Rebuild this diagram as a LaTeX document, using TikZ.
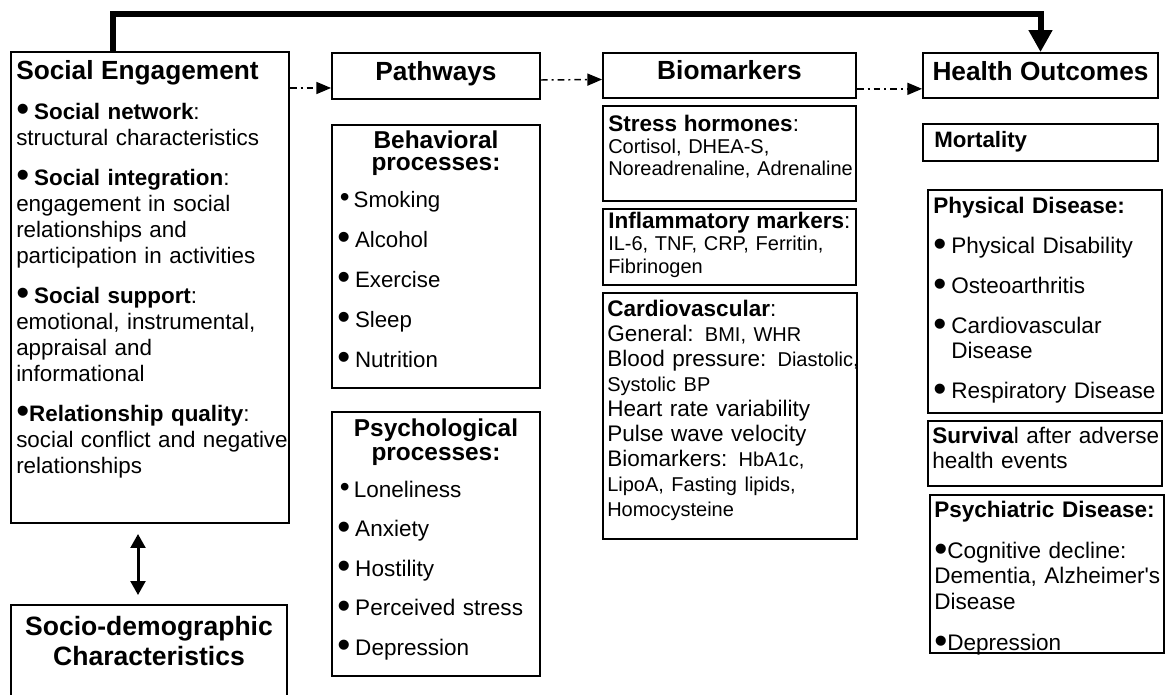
\documentclass[tikz,border=0pt]{standalone}
\usepackage{fontspec}
\setmainfont{Liberation Sans}
\usetikzlibrary{arrows.meta,fit}
\tikzset{box/.style={rectangle,draw,line width=1.4pt,inner sep=0pt}}
\tikzset{hd/.style={anchor=base,inner sep=0pt,font=\fontsize{19.7}{23}\selectfont\bfseries}}
\tikzset{txt/.style={anchor=north west,inner sep=0pt,align=left,text width=240pt}}
\tikzset{ctxt/.style={anchor=north,inner sep=0pt,align=center,text width=190pt}}
\tikzset{flow/.style={-{Triangle[length=11pt,width=9pt]},line width=1.1pt,dash pattern=on 5pt off 3pt on 1.5pt off 3pt}}
\newcommand{\fl}{\rule{0pt}{1em}}
\newcommand{\bul}{\raisebox{-0.12em}{\scalebox{1.65}{\textbullet}}}
\newcommand{\bitem}{\bul\hspace{0.22em}}
\newcommand{\sbul}{\hspace{2pt}\raisebox{0.02em}{\scalebox{1.25}{\textbullet}}\hspace{3pt}}
\newcommand{\sm}{\fontsize{15}{18.75}\selectfont}

\begin{document}
\begin{tikzpicture}[x=0.75pt,y=-0.75pt]
      \useasboundingbox (0,0) rectangle (1166,695);
      \node[box, fit={(11,52) (289,523)}] (se) {};
      \node[txt, font=\fontsize{16.8}{19.5}\selectfont] (setxt) at (16,52.7) {{\fontsize{19.7}{23}\selectfont\bfseries\fl Social Engagement}\\[10.5pt]
        \bitem\textbf{Social network}:\\ structural characteristics\\[10.5pt]
        \bitem\textbf{Social integration}:\\ engagement in social\\ relationships and\\ participation in activities\\[10.5pt]
        \bitem\textbf{Social support}:\\ emotional, instrumental,\\ appraisal and\\ informational\\[10.5pt]
        \bul\textbf{Relationship quality}:\\ social conflict and negative\\ relationships};
      \node[box, fit={(11,605) (287,700)}] (sd) {};
      \node[ctxt, text width=200pt, font=\fontsize{19.9}{22.5}\selectfont\bfseries] (sdtxt) at (149,608.5) {\fl Socio-demographic\\ Characteristics};

      \node[box, fit={(332,53) (540,99)}] (pw) {};
      \node[hd] (pwtxt) at (436,81) {Pathways};
      \node[box, fit={(332,125) (540,388)}] (beh) {};
      \node[ctxt, text width=150pt, font=\fontsize{18.3}{17}\selectfont\bfseries] (behhd) at (436,123.6) {\fl Behavioral\\ processes:};
      \node[txt, font=\fontsize{16.7}{30}\selectfont] (behls) at (337,184.7) {\fl\sbul Smoking\\ \bitem Alcohol\\ \bitem Exercise\\ \bitem Sleep\\ \bitem Nutrition};
      \node[box, fit={(332,412) (540,676)}] (psy) {};
      \node[ctxt, text width=150pt, font=\fontsize{18.3}{18}\selectfont\bfseries] (psyhd) at (436,411.6) {\fl Psychological\\ processes:};
      \node[txt, font=\fontsize{16.9}{29.6}\selectfont] (psyls) at (337,474.5) {\fl\sbul Loneliness\\ \bitem Anxiety\\ \bitem Hostility\\ \bitem Perceived stress\\ \bitem Depression};

      \node[box, fit={(603,53) (856,98)}] (bm) {};
      \node[hd] (bmtxt) at (729.5,79.5) {Biomarkers};
      \node[box, fit={(603,106) (856,201)}] (str) {};
      \node[txt, font=\fontsize{15}{16.5}\selectfont] (strtxt) at (608,108.5) {{\fontsize{16.9}{16.5}\selectfont\fl\textbf{Stress hormones}:}\\ Cortisol, DHEA-S,\\ Noreadrenaline, Adrenaline};
      \node[box, fit={(603,209) (856,285)}] (inf) {};
      \node[txt, font=\fontsize{15}{17}\selectfont] (inftxt) at (608,205.5) {{\fontsize{16.9}{17}\selectfont\fl\textbf{Inflammatory markers}:}\\ IL-6, TNF, CRP, Ferritin,\\ Fibrinogen};
      \node[box, fit={(603,293) (857,539)}] (cv) {};
      \node[txt, font=\fontsize{16.9}{18.75}\selectfont] (cvtxt) at (607,293.5) {\fl\textbf{Cardiovascular}:\\ General: {\sm BMI, WHR}\\ Blood pressure: {\sm Diastolic,}\\ {\sm Systolic BP}\\ Heart rate variability\\ Pulse wave velocity\\ Biomarkers: {\sm HbA1c,}\\ {\sm LipoA, Fasting lipids,}\\ {\sm Homocysteine}};

      \node[box, fit={(923,53) (1158,98)}] (ho) {};
      \node[hd] (hotxt) at (1040.5,81) {Health Outcomes};
      \node[box, fit={(923,124) (1158,161)}] (mort) {};
      \node[txt, font=\fontsize{16.7}{18}\selectfont\bfseries] (morttxt) at (934,124.8) {\fl Mortality};
      \node[box, fit={(928,190) (1162,413)}] (phys) {};
      \node[txt, font=\fontsize{16.9}{18.75}\selectfont] (phystxt) at (933,190.5) {\fl\textbf{Physical Disease:}\\[11.25pt]
        \bitem Physical Disability\\[11.25pt] \bitem Osteoarthritis\\[11.25pt] \bitem Cardiovascular\\ \phantom{\bitem}Disease\\[11.25pt] \bitem Respiratory Disease};
      \node[box, fit={(928,421) (1162,486)}] (surv) {};
      \node[txt, font=\fontsize{16.9}{18.75}\selectfont] (survtxt) at (932,420.5) {\fl\textbf{Surviva}l after adverse\\ health events};
      \node[box, fit={(930,495) (1164,653)}] (psych) {};
      \node[txt, font=\fontsize{16.9}{19}\selectfont] (psychtxt) at (934,494.5) {\fl\textbf{Psychiatric Disease:}\\[12pt]
        \bul Cognitive decline:\\ Dementia, Alzheimer\textquotesingle s\\ Disease\\[12pt] \bul Depression};

      \coordinate (pwin) at ([yshift=-9pt]pw.west);
        \draw[flow] (se.east |- pwin) -- (pwin);
        \draw[flow] ([yshift=-3pt]pw.east) -- ([yshift=-3pt]bm.west);
        \draw[flow] ([yshift=-10pt]bm.east) -- ([yshift=-10pt]ho.west);
      \coordinate (top) at (113,14);
        \draw[line width=4.5pt, line join=miter, -{Triangle[length=16.5pt,width=17pt]}] (se.north -| top) |- (ho.north |- top) -- (ho.north);
      \coordinate (dbl) at ([xshift=-9pt]se.south);
        \draw[line width=2.25pt, {Triangle[length=10.5pt,width=11pt]}-{Triangle[length=10.5pt,width=11pt]}, shorten <=7.5pt, shorten >=6.75pt] (dbl) -- (dbl |- sd.north);
    \end{tikzpicture}
\end{document}
